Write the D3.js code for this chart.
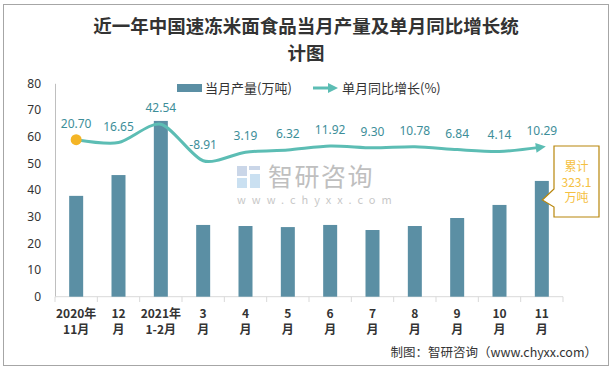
<!DOCTYPE html>
<html><head><meta charset="utf-8">
<script src="https://cdn.jsdelivr.net/npm/d3@7/dist/d3.min.js"></script>
<style>
html,body{margin:0;padding:0;background:#fff;}
svg{display:block;font-family:"Noto Sans CJK SC","Noto Sans",sans-serif;}
</style></head>
<body>
<svg id="chart" width="613" height="369"></svg>
<script>
const categories = [["2020年","11月"],["12","月"],["2021年","1-2月"],["3","月"],["4","月"],["5","月"],["6","月"],["7","月"],["8","月"],["9","月"],["10","月"],["11","月"]];
const production = [37.8, 45.6, 65.9, 26.9, 26.5, 26.1, 26.9, 25.0, 26.5, 29.5, 34.4, 43.4];
const growth = [20.70, 16.65, 42.54, -8.91, 3.19, 6.32, 11.92, 9.30, 10.78, 6.84, 4.14, 10.29];
const yTicks = [0, 10, 20, 30, 40, 50, 60, 70, 80];
const y2Domain = [-200, 100];
const titleLines = ["近一年中国速冻米面食品当月产量及单月同比增长统", "计图"];
const legendBar = "当月产量(万吨)";
const legendLine = "单月同比增长(%)";
const noteLines = ["累计", "323.1", "万吨"];
const footer = "制图：智研咨询（www.chyxx.com）";

const svg = d3.select("#chart");
const barColor = "#5b8fa4", lineColor = "#5cbdb4", labelColor = "#3d8e99";

// border
svg.append("rect").attr("x",3.5).attr("y",4.5).attr("width",605).attr("height",361)
  .attr("fill","#fff").attr("stroke","#a6a6a6").attr("stroke-width",1);

// title
svg.append("g").selectAll("text").data(titleLines).join("text")
  .attr("x",306).attr("y",(d,i)=>33+i*27).attr("text-anchor","middle")
  .attr("font-size",18.5).attr("font-weight","bold").attr("fill","#333").text(d=>d);

const idx = categories.map((d,i)=>i);
const x = d3.scaleBand().domain(idx).range([55,563]).paddingInner(0).paddingOuter(0);
const y = d3.scaleLinear().domain([0,80]).range([296.7,83.3]);
const y2 = d3.scaleLinear().domain(y2Domain).range([296.7,83.3]);
const cx = i => x(i) + x.bandwidth()/2;

// watermark
const wm = svg.append("g").attr("opacity",0.55);
wm.append("rect").attr("x",237).attr("y",166).attr("width",10).attr("height",10).attr("fill","#9fb6d6");
wm.append("rect").attr("x",249).attr("y",166).attr("width",11).attr("height",4).attr("fill","#9fb6d6");
wm.append("rect").attr("x",237).attr("y",178).attr("width",10).attr("height",10).attr("fill","#9fc7e6");
wm.append("rect").attr("x",250).attr("y",174).attr("width",10).attr("height",14).attr("fill","#9fc7e6");
wm.append("text").attr("x",268).attr("y",186).attr("font-size",25).attr("fill","#8c8c8c").attr("letter-spacing",1.5).text("智研咨询");
wm.append("text").attr("x",237).attr("y",204).attr("font-size",11).attr("fill","#9a9a9a").attr("letter-spacing",6).text("www.chyxx.com");

// y axis
const ya = svg.append("g").attr("transform","translate(55,0)")
  .call(d3.axisLeft(y).tickValues(yTicks).tickSize(0).tickPadding(14));
ya.select(".domain").attr("stroke","#bfbfbf");
ya.selectAll("text").attr("font-size",12).attr("fill","#333").attr("font-family","'Noto Sans','Open Sans',sans-serif");

// x axis
const xa = svg.append("g");
xa.append("line").attr("x1",55).attr("x2",563).attr("y1",296.7).attr("y2",296.7).attr("stroke","#d9d9d9");
xa.selectAll(".tk").data(idx.concat([categories.length])).join("line")
  .attr("x1",i=> i<categories.length ? x(i) : x(categories.length-1)+x.bandwidth())
  .attr("x2",i=> i<categories.length ? x(i) : x(categories.length-1)+x.bandwidth())
  .attr("y1",296.7).attr("y2",302).attr("stroke","#d9d9d9");
const xl = xa.selectAll(".xl").data(categories).join("text")
  .attr("text-anchor","middle").attr("font-size",12).attr("font-weight","bold").attr("fill","#333");
xl.append("tspan").attr("x",(d,i)=>cx(i)).attr("y",318).text(d=>d[0]);
xl.append("tspan").attr("x",(d,i)=>cx(i)).attr("y",334).text(d=>d[1]);

// bars
const bw = 14;
svg.append("g").selectAll("rect").data(production).join("rect")
  .attr("x",(d,i)=>cx(i)-bw/2).attr("width",bw)
  .attr("y",d=>y(d)).attr("height",d=>y(0)-y(d)).attr("fill",barColor);

// arrow marker
const defs = svg.append("defs");
defs.append("marker").attr("id","arr").attr("markerUnits","userSpaceOnUse")
  .attr("viewBox","0 0 10 10").attr("refX",6).attr("refY",5)
  .attr("markerWidth",11).attr("markerHeight",10).attr("orient","auto")
  .append("path").attr("d","M0,0 L10,5 L0,10 Z").attr("fill",lineColor);

// line
const line = d3.line().x((d,i)=>cx(i)).y(d=>y2(d)).curve(d3.curveCardinal.tension(0.2));
svg.append("path").datum(growth).attr("d",line).attr("fill","none")
  .attr("stroke",lineColor).attr("stroke-width",3).attr("marker-end","url(#arr)");
svg.append("circle").attr("cx",cx(0)).attr("cy",y2(growth[0])).attr("r",5.5).attr("fill","#f4b526");

// line labels
svg.append("g").selectAll("text").data(growth).join("text")
  .attr("x",(d,i)=>cx(i)).attr("y",d=>y2(d)-12).attr("text-anchor","middle")
  .attr("font-size",12).attr("fill",labelColor).attr("font-family","'Noto Sans','Open Sans',sans-serif")
  .text(d=>d.toFixed(2));

// legend
svg.append("rect").attr("x",177).attr("y",84).attr("width",25).attr("height",8).attr("fill",barColor);
svg.append("text").attr("x",205).attr("y",93).attr("font-size",13).attr("fill","#333").text(legendBar);
svg.append("line").attr("x1",313).attr("x2",334).attr("y1",88).attr("y2",88)
  .attr("stroke",lineColor).attr("stroke-width",3).attr("marker-end","url(#arr)");
svg.append("text").attr("x",342).attr("y",93).attr("font-size",13).attr("fill","#333").text(legendLine);

// callout
const last = categories.length-1;
const bx = 554, by = 146, bW = 45, bH = 71;
const tipX = cx(last)+0.5, tipY = 200;
svg.append("path").attr("d",`M${bx},${by} H${bx+bW} V${by+bH} H${bx} V207 L${tipX},${tipY} L${bx},189 Z`)
  .attr("fill","#fff").attr("stroke","#b8860b").attr("stroke-width",1.2);
svg.append("g").selectAll("text").data(noteLines).join("text")
  .attr("x",bx+bW/2).attr("y",(d,i)=>171+i*15.5).attr("text-anchor","middle")
  .attr("font-size",12).attr("fill","#f5c040").text(d=>d);

// footer
svg.append("text").attr("x",597).attr("y",357).attr("text-anchor","end")
  .attr("font-size",12.5).attr("fill","#333").text(footer);
</script>
</body></html>
